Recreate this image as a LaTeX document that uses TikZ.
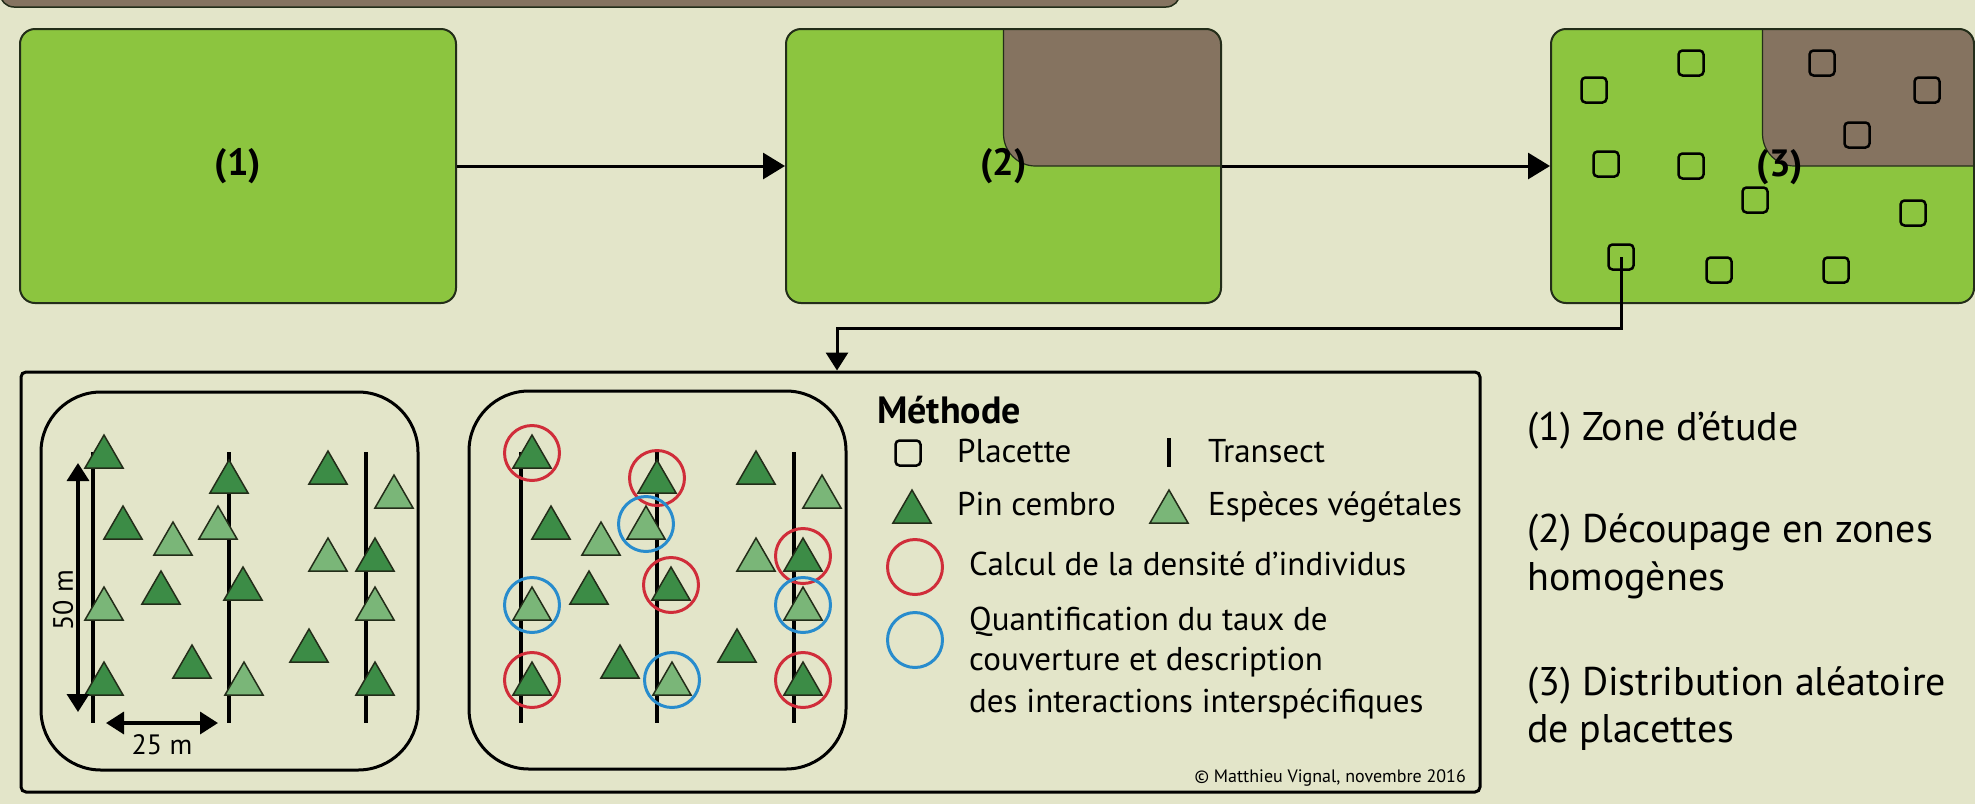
\documentclass[tikz,border=0pt]{standalone}
\usepackage{fontspec}
\setmainfont{PT Sans}
\usetikzlibrary{arrows.meta,shapes.geometric}
\definecolor{fond}{RGB}{227,229,201}
\definecolor{prairie}{RGB}{140,197,63}
\definecolor{sol}{RGB}{133,115,96}
\definecolor{pinvert}{RGB}{60,140,70}
\definecolor{vegvert}{RGB}{122,182,120}
\definecolor{rouge}{RGB}{208,45,58}
\definecolor{bleu}{RGB}{40,140,205}
\definecolor{trait}{RGB}{35,45,25}
\tikzstyle{zone}=[draw=trait,line width=2pt,fill=prairie,rounded corners=15pt,minimum height=274pt,inner sep=0pt]
\tikzstyle{homog}=[path picture={\filldraw[fill=sol,draw=trait,line width=1.2pt,rounded corners=32pt] (path picture bounding box.center) rectangle ([shift={(40pt,40pt)}]path picture bounding box.north east);}]
\tikzstyle{num}=[font=\fontsize{38}{42}\selectfont\bfseries]
\tikzstyle{plac}=[draw=black,line width=2.5pt,rounded corners=4pt,minimum size=25pt,inner sep=0pt]
\tikzstyle{fleche}=[line width=3pt,-{Triangle[length=22pt,width=26pt]}]
\tikzstyle{cembro}=[regular polygon,regular polygon sides=3,minimum size=44pt,inner sep=0pt,draw=trait,line width=1.5pt,fill=pinvert]
\tikzstyle{vegetale}=[cembro,fill=vegvert]
\tikzstyle{dens}=[circle,draw=rouge,line width=3pt,minimum size=55pt,inner sep=0pt]
\tikzstyle{couv}=[dens,draw=bleu]
\tikzstyle{panneau}=[draw,line width=3pt,rounded corners=60pt,minimum width=377pt,minimum height=378pt]
\tikzstyle{cote}=[line width=3.5pt,{Triangle[length=18pt,width=22pt]}-{Triangle[length=18pt,width=22pt]}]
\tikzstyle{legende}=[anchor=base west,inner sep=0pt,font=\fontsize{33}{38}\selectfont]
\tikzstyle{etape}=[anchor=base west,inner sep=0pt,font=\fontsize{40}{46}\selectfont]

\begin{document}
\begin{tikzpicture}[x=1pt,y=-1pt]
\useasboundingbox (0,0) rectangle (1975,804);
\fill[fond] (0,0) rectangle (1975,804);

%bandeau
\filldraw[fill=sol,draw=trait,line width=1.5pt,rounded corners=14pt] (0,-40) rectangle (1180,7);

%zones
\node[zone,num,minimum width=436pt] (z1) at (238,166) {(1)};
\node[zone,homog,num,minimum width=435pt] (z2) at (1003.5,166) {(2)};
\node[zone,homog,minimum width=423pt] (z3) at (1762.5,166) {};
\node[num] (n3) at (1780,167) {(3)};
\foreach \x/\y [count=\i] in {1594/90,1691/63,1822/63,1927/90,1857/135,1606/164,1691/166,1755/200,1913/213,1621/257,1719/270,1836/270}
  \node[plac] (p\i) at (\x,\y) {};
\draw[fleche] (z1) -- (z2);
\draw[fleche] (z2) -- (z3);

%methode
\node[draw,line width=3pt,rounded corners=5pt,minimum width=1459pt,minimum height=420pt] (methode) at (750.5,582) {};
\coordinate (coude) at (837,328);
\draw[line width=3pt,-{Triangle[length=18pt,width=22pt]}] (p10.center) |- (coude) -- (coude |- methode.north);

%transects
\node[panneau] (panA) at (229.5,581) {};
\node[panneau] (panB) at (657.5,580) {};
\foreach \x in {93,229,366,521,657,794}
  \draw[line width=3.5pt] (\x,452) -- (\x,723);
\foreach \x/\y/\s [count=\i] in {104/457/cembro,123/528/cembro,173/544/vegetale,161/593/cembro,104/609/vegetale,104/684/cembro,192/667/cembro,229/482/cembro,218/528/vegetale,243/589/cembro,244/684/vegetale,328/473/cembro,394/497/vegetale,328/560/vegetale,375/560/cembro,375/609/vegetale,309/651/cembro,375/684/cembro}
{
  \node[\s] (ta\i) at (\x,\y) {};
  \node[\s] (tb\i) at (\x+428,\y) {};
}
\foreach \t in {1,6,8,10,15,18}
  \node[dens] (r\t) at ([yshift=4pt]tb\t.center) {};
\foreach \t in {5,9,11,16}
  \node[couv] (b\t) at ([yshift=4pt]tb\t.center) {};

%cotes
\draw[cote] (78,463) -- (78,712);
\draw[cote] (106,723) -- (218,723);
\node[font=\fontsize{28}{32}\selectfont,rotate=90] (c50) at (63,600) {50 m};
\node[font=\fontsize{28}{32}\selectfont] (c25) at (162,745) {25 m};

%legende
\node[legende,font=\fontsize{38}{42}\selectfont\bfseries] (titre) at (877,423) {Méthode};
\node[plac] (lp) at (908,453) {};
\node[legende] (tp) at (957,462) {Placette};
\draw[line width=3.5pt] (1169,438) -- (1169,467);
\node[legende] (tt) at (1208,462) {Transect};
\node[cembro] (lc) at (912,512) {};
\node[legende] (tc) at (957,515) {Pin cembro};
\node[vegetale] (lv) at (1169,512) {};
\node[legende] (tv) at (1208,515) {Espèces végétales};
\node[dens] (ld) at (915,567) {};
\node[legende] (td) at (969,575) {Calcul de la densité d’individus};
\node[couv] (lq) at (915,640) {};
\node[legende] (tq1) at (969,630) {Quantification du taux de};
\node[legende] (tq2) at (969,670) {couverture et description};
\node[legende] (tq3) at (969,712) {des interactions interspécifiques};
\node[anchor=base east,inner sep=0pt,font=\fontsize{18}{21}\selectfont] (copy) at (1466,782) {© Matthieu Vignal, novembre 2016};

%etapes
\node[etape] (e1) at (1527,440) {(1) Zone d’étude};
\node[etape] (e2) at (1527,542) {(2) Découpage en zones};
\node[etape] (e2b) at (1527,590) {homogènes};
\node[etape] (e3) at (1527,695) {(3) Distribution aléatoire};
\node[etape] (e3b) at (1527,742) {de placettes};

\end{tikzpicture}
\end{document}
